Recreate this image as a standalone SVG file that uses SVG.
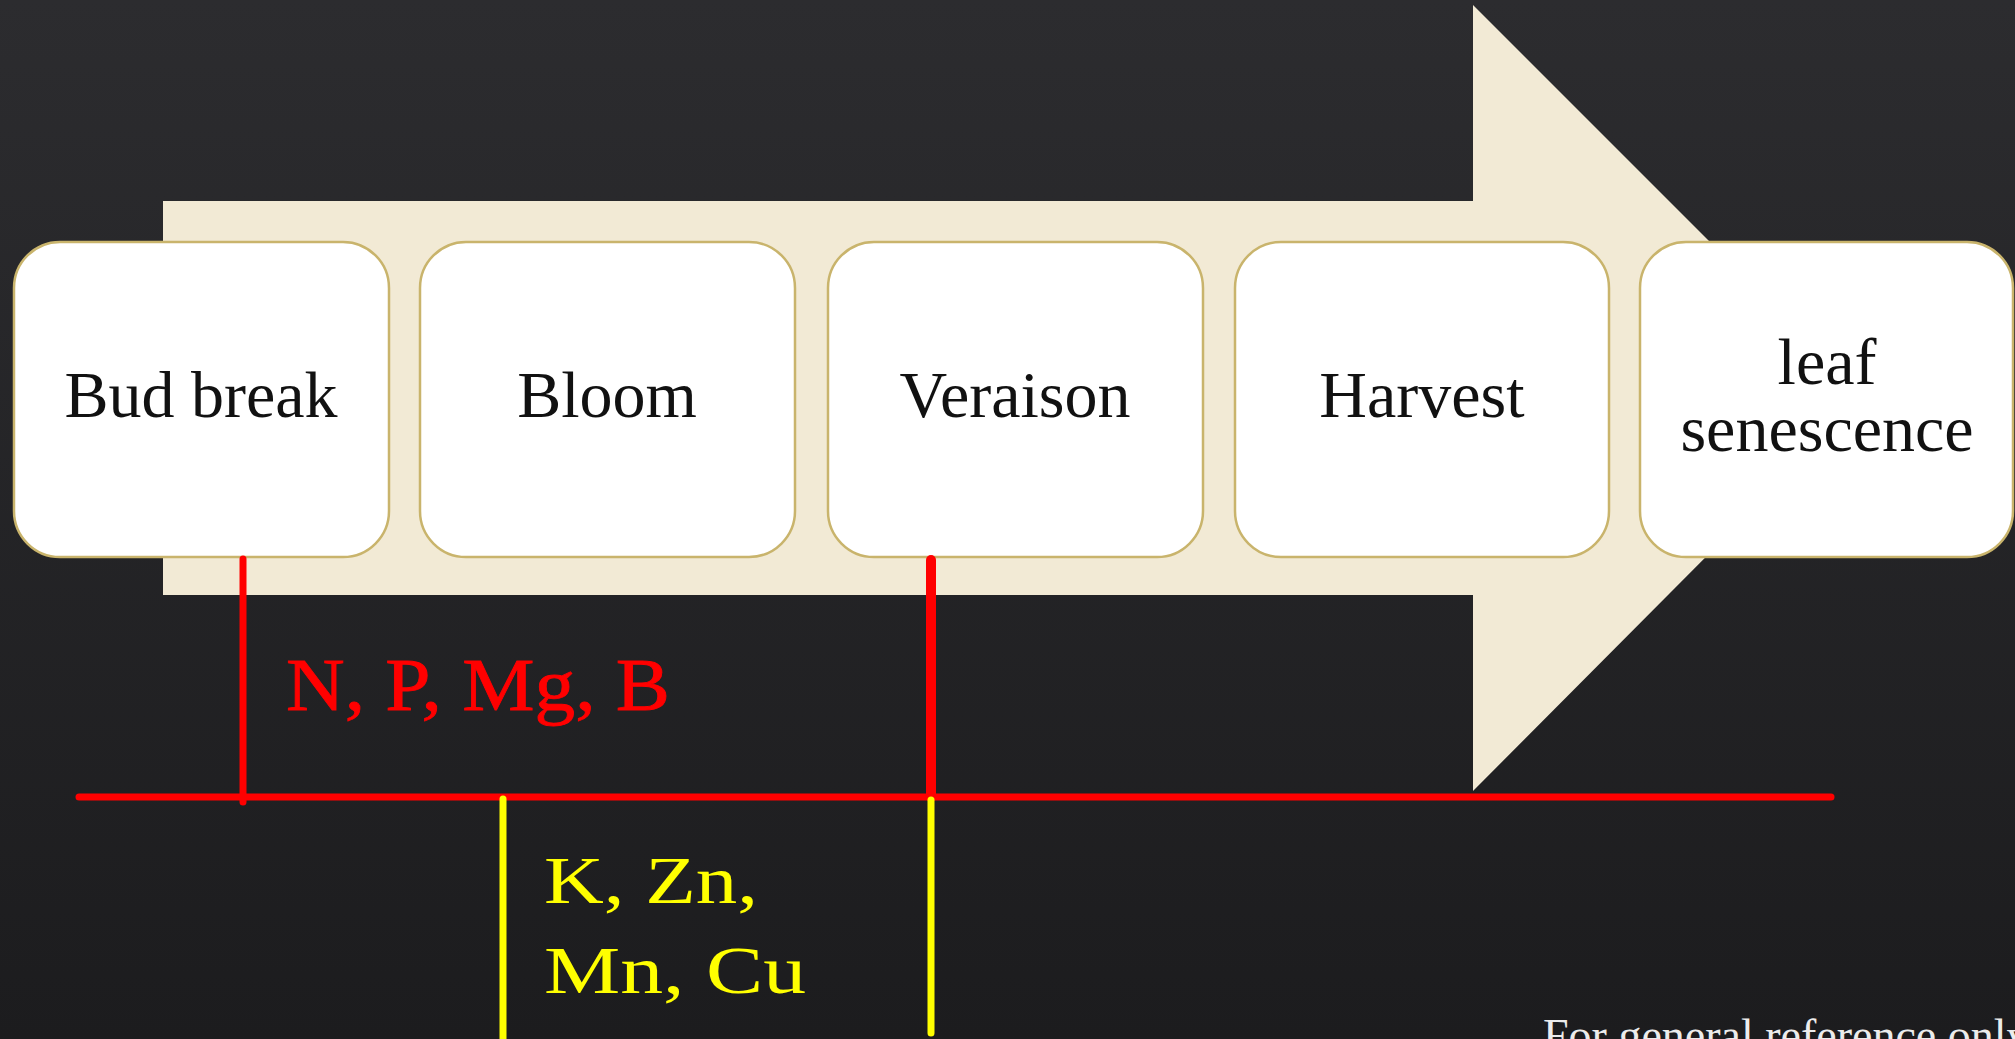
<svg xmlns="http://www.w3.org/2000/svg" width="2015" height="1039" viewBox="0 0 2015 1039">
  <defs>
    <linearGradient id="bg" x1="0" y1="0" x2="0" y2="1">
      <stop offset="0" stop-color="#2c2c2f"/>
      <stop offset="1" stop-color="#1c1c1e"/>
    </linearGradient>
    <style>
      .box { fill: #ffffff; stroke: #c9b46c; stroke-width: 2.5; }
      .lbl { font-family: "Liberation Serif", "Times New Roman", serif; font-size: 66px; fill: #111111; text-anchor: middle; }
      .red { stroke: #ff0000; stroke-linecap: round; fill: none; }
      .yel { stroke: #ffff00; stroke-linecap: round; fill: none; }
      .el { font-family: "Liberation Serif", "Times New Roman", serif; }
    </style>
  </defs>
  <rect x="0" y="0" width="2015" height="1039" fill="url(#bg)"/>

  <g id="arrow">
    <path d="M163,201 H1473 V5 L1865,397 L1473,791 V595 H163 Z" fill="#f2ead5"/>
  </g>

  <g id="node-bud-break">
    <rect class="box" x="14" y="242" width="375" height="315" rx="46" ry="46"/>
    <text class="lbl" x="201" y="417">Bud break</text>
  </g>
  <g id="node-bloom">
    <rect class="box" x="420" y="242" width="375" height="315" rx="46" ry="46"/>
    <text class="lbl" x="607" y="417">Bloom</text>
  </g>
  <g id="node-veraison">
    <rect class="box" x="828" y="242" width="375" height="315" rx="46" ry="46"/>
    <text class="lbl" x="1015" y="417">Veraison</text>
  </g>
  <g id="node-harvest">
    <rect class="box" x="1235" y="242" width="374" height="315" rx="46" ry="46"/>
    <text class="lbl" x="1422" y="417">Harvest</text>
  </g>
  <g id="node-leaf-senescence">
    <rect class="box" x="1640" y="242" width="373" height="315" rx="46" ry="46"/>
    <text class="lbl" x="1827" y="384">leaf</text>
    <text class="lbl" x="1827" y="451">senescence</text>
  </g>

  <g id="connectors">
    <line class="red" x1="79" y1="797" x2="1831" y2="797" stroke-width="7"/>
    <line class="red" x1="243" y1="559" x2="243" y2="802" stroke-width="7"/>
    <line class="red" x1="931" y1="560" x2="931" y2="797" stroke-width="10"/>
    <line class="yel" x1="503" y1="799" x2="503" y2="1045" stroke-width="7"/>
    <line class="yel" x1="931" y1="800" x2="931" y2="1033" stroke-width="7"/>
  </g>

  <g id="labels">
    <text class="el" x="286" y="710" font-size="73" fill="#ff0000" stroke="#ff0000" stroke-width="0.8" textLength="384" lengthAdjust="spacingAndGlyphs">N, P, Mg, B</text>
    <text class="el" x="544" y="903" font-size="68" fill="#ffff00" textLength="214" lengthAdjust="spacingAndGlyphs">K, Zn,</text>
    <text class="el" x="544" y="993" font-size="68" fill="#ffff00" textLength="262" lengthAdjust="spacingAndGlyphs">Mn, Cu</text>
    <text class="el" x="1543" y="1051" font-size="46" fill="#ececec">For general reference only</text>
  </g>
</svg>
